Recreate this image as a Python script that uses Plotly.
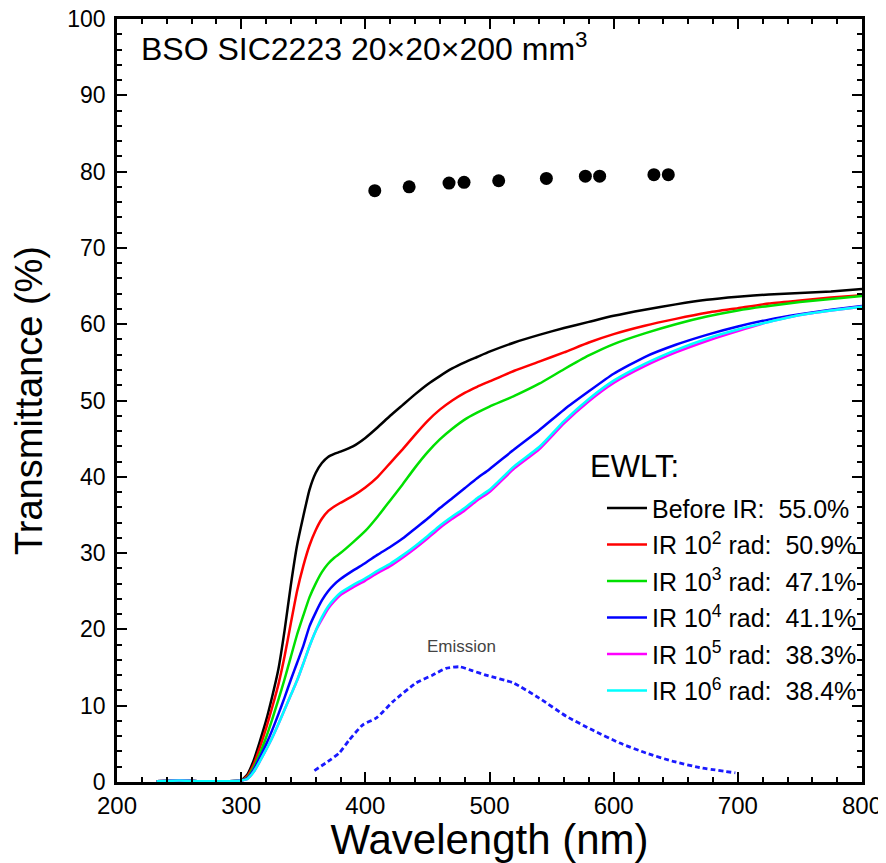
import plotly.graph_objects as go

# ---------------- data ----------------
wavelength = [232, 250, 270, 290, 300, 305, 310, 315, 320, 325, 330, 335, 340, 345, 350, 355, 360,
              365, 370, 375, 380, 390, 400, 410, 420, 430, 440, 450, 460, 470, 480, 490, 500,
              520, 540, 560, 580, 600, 625, 650, 675, 700, 725, 750, 775, 800]

before_ir = [0.1, 0.2, 0.1, 0.1, 0.2, 1.0, 2.8, 5.3, 8.0, 11.2, 14.8, 19.9, 25.8, 31.0, 34.8, 38.3, 40.5,
             41.8, 42.6, 43.0, 43.3, 44.0, 45.1, 46.5, 48.0, 49.4, 50.8, 52.1, 53.2, 54.2, 55.0, 55.7, 56.4,
             57.6, 58.6, 59.5, 60.3, 61.1, 61.9, 62.6, 63.2, 63.6, 63.9, 64.1, 64.3, 64.6]

ir_1e2 = [0.1, 0.2, 0.1, 0.1, 0.2, 0.8, 2.3, 4.5, 7.0, 9.8, 12.8, 16.5, 20.8, 25.0, 28.3, 31.0, 33.0,
          34.5, 35.5, 36.1, 36.6, 37.5, 38.6, 40.0, 41.8, 43.6, 45.5, 47.3, 48.8, 50.0, 51.0, 51.8, 52.5,
          53.9, 55.1, 56.3, 57.6, 58.7, 59.8, 60.7, 61.5, 62.1, 62.7, 63.1, 63.5, 63.8]

ir_1e3 = [0.1, 0.2, 0.1, 0.1, 0.2, 0.6, 1.9, 3.7, 5.8, 8.2, 10.8, 13.5, 16.4, 19.3, 21.8, 24.2, 26.0,
          27.5, 28.6, 29.4, 30.0, 31.4, 32.9, 34.8, 36.9, 39.0, 41.2, 43.2, 44.9, 46.3, 47.5, 48.4, 49.2,
          50.6, 52.2, 54.1, 55.9, 57.4, 58.8, 60.0, 61.0, 61.8, 62.4, 62.9, 63.3, 63.7]

ir_1e4 = [0.1, 0.2, 0.1, 0.1, 0.2, 0.5, 1.6, 3.2, 4.9, 6.8, 8.9, 11.1, 13.4, 15.6, 17.8, 20.4, 22.2,
          23.8, 25.0, 25.9, 26.6, 27.7, 28.7, 29.8, 30.8, 31.9, 33.2, 34.5, 35.9, 37.2, 38.5, 39.8, 41.0,
          43.6, 46.1, 48.8, 51.2, 53.5, 55.7, 57.3, 58.6, 59.7, 60.6, 61.3, 61.9, 62.4]

ir_1e5 = [0.1, 0.2, 0.1, 0.1, 0.2, 0.4, 1.3, 2.7, 4.2, 5.8, 7.6, 9.5, 11.4, 13.3, 15.5, 17.8, 19.8,
          21.3, 22.7, 23.7, 24.5, 25.5, 26.4, 27.4, 28.3, 29.4, 30.6, 31.9, 33.3, 34.5, 35.6, 36.9, 38.0,
          41.1, 43.6, 47.0, 49.9, 52.3, 54.5, 56.3, 57.8, 59.1, 60.3, 61.2, 61.8, 62.3]

ir_1e6 = [0.1, 0.2, 0.1, 0.1, 0.2, 0.4, 1.3, 2.7, 4.2, 5.8, 7.6, 9.5, 11.4, 13.3, 15.5, 17.8, 19.8,
          21.6, 23.0, 24.0, 24.8, 25.8, 26.7, 27.7, 28.6, 29.7, 30.9, 32.2, 33.6, 34.8, 35.9, 37.2, 38.3,
          41.4, 43.9, 47.3, 50.2, 52.6, 54.8, 56.6, 58.1, 59.3, 60.3, 61.2, 61.8, 62.3]

series_names = ["Before IR:  55.0%",
                "IR 10<sup>2</sup> rad:  50.9%",
                "IR 10<sup>3</sup> rad:  47.1%",
                "IR 10<sup>4</sup> rad:  41.1%",
                "IR 10<sup>5</sup> rad:  38.3%",
                "IR 10<sup>6</sup> rad:  38.4%"]
series_values = [before_ir, ir_1e2, ir_1e3, ir_1e4, ir_1e5, ir_1e6]
series_colors = ["#000000", "#ff0000", "#00e000", "#0000ff", "#ff00ff", "#00ffff"]

dots_wavelength = [407.6, 435.3, 467.4, 479.5, 507.4, 545.8, 577.2, 588.7, 632.4, 644.0]
dots_value = [77.5, 78.0, 78.5, 78.6, 78.8, 79.1, 79.4, 79.4, 79.6, 79.6]

emission_wavelength = [359, 370, 379, 387, 398, 409, 422, 441, 454, 465, 476, 486, 497, 519,
                       540, 562, 583, 605, 626, 648, 669, 698]
emission_value = [1.5, 2.7, 3.8, 5.5, 7.5, 8.4, 10.5, 13.0, 14.0, 14.9, 15.1, 14.6, 14.0, 13.0,
                  11.0, 8.6, 6.8, 5.1, 3.8, 2.7, 1.9, 1.2]

FONT = "Liberation Sans, Arial, sans-serif"

fig = go.Figure()

for i, (name, vals, col) in enumerate(zip(series_names, series_values, series_colors)):
    fig.add_trace(go.Scatter(
        x=wavelength, y=vals, mode="lines", name=name,
        line=dict(color=col, width=2.5, shape="spline", smoothing=0.5),
        legendgroup=f"g{i}",
    ))

fig.add_trace(go.Scatter(
    x=emission_wavelength, y=emission_value, mode="lines",
    line=dict(color="#1a1aff", width=2.8, dash="5px,3px", shape="spline", smoothing=0.5),
    showlegend=False,
))

fig.add_trace(go.Scatter(
    x=dots_wavelength, y=dots_value, mode="markers",
    marker=dict(color="black", size=13),
    showlegend=False,
))

axis_common = dict(
    showline=True, linewidth=2.5, linecolor="black", mirror="ticks",
    ticks="inside", ticklen=10, tickwidth=2, tickcolor="black",
    showgrid=False, zeroline=False, automargin=False,
    ticklabeloverflow="allow",
)

fig.update_xaxes(
    range=[200, 800], dtick=100, tick0=200,
    minor=dict(ticks="inside", ticklen=5, tickwidth=1.5, tickcolor="black", dtick=20),
    tickfont=dict(family=FONT, size=24, color="black"),
    title=dict(text="Wavelength (nm)", font=dict(family=FONT, size=42, color="black"), standoff=4),
    **axis_common,
)
fig.update_yaxes(
    range=[0, 100], dtick=10, tick0=0,
    minor=dict(ticks="inside", ticklen=5, tickwidth=1.5, tickcolor="black", dtick=2),
    tickfont=dict(family=FONT, size=23, color="black"),
    ticklabelstandoff=4,
    title=dict(text="Transmittance (%)", font=dict(family=FONT, size=38, color="black"), standoff=15),
    **axis_common,
)

fig.add_annotation(
    x=0.029, y=0.963, xref="paper", yref="paper", xanchor="left", yanchor="middle",
    text="BSO SIC2223 20×20×200 mm<sup>3</sup>", showarrow=False,
    font=dict(family=FONT, size=32, color="black"),
)
fig.add_annotation(
    x=477.7, y=17.7, text="Emission", showarrow=False,
    font=dict(family=FONT, size=17, color="#444444"),
)
fig.add_annotation(
    x=0.632, y=0.413, xref="paper", yref="paper", xanchor="left", yanchor="middle",
    text="EWLT:", showarrow=False,
    font=dict(family=FONT, size=31, color="black"),
)

# the page body adds an 8 px offset, so the figure is 8 px smaller than the window
fig.update_layout(
    width=878, height=855,
    margin=dict(l=109, r=24, t=11, b=81, autoexpand=False),
    plot_bgcolor="white", paper_bgcolor="white",
    legend=dict(
        x=0.651, y=0.389, xanchor="left", yanchor="top",
        bgcolor="rgba(0,0,0,0)", borderwidth=0,
        font=dict(family=FONT, size=25, color="black"),
        tracegroupgap=1, itemwidth=40,
    ),
)

fig.write_html("out.html")
